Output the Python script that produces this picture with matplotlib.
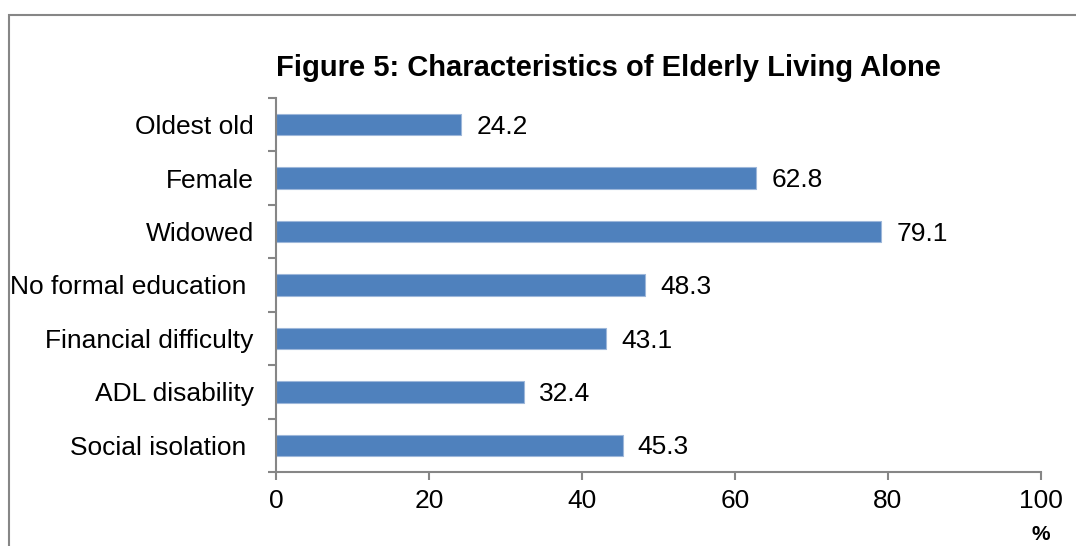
import matplotlib.pyplot as plt
from matplotlib.patches import Rectangle

plt.rcParams['font.family'] = ['Liberation Sans', 'DejaVu Sans']

labels = ['Oldest old', 'Female', 'Widowed', 'No formal education ',
          'Financial difficulty', 'ADL disability', 'Social isolation ']
values = [24.2, 62.8, 79.1, 48.3, 43.1, 32.4, 45.3]
xticks = [0, 20, 40, 60, 80, 100]

W, H = 1076, 546
fig = plt.figure(figsize=(W / 100, H / 100), dpi=100)

# outer chart frame (runs off the right and bottom edges)
fig.patches.append(Rectangle((9 / W, -0.1), 1.2, 1 - 15 / H + 0.1,
                             transform=fig.transFigure, fill=False,
                             edgecolor='#868686', linewidth=1.5, zorder=0))

ax = fig.add_axes([276 / W, 1 - 472 / H, (1041 - 276) / W, (472 - 98) / H])

ypos = list(range(len(labels)))
ax.barh(ypos, values, height=0.4, color='#4F81BD', edgecolor='#9DB7DA',
        linewidth=0.8)
for y, v in zip(ypos, values):
    ax.text(v + 2.0, y + 0.04, f'{v:.1f}', va='center', ha='left', fontsize=19)

ax.set_ylim(len(labels) - 0.5, -0.5)
ax.set_xlim(0, 100)
ax.set_yticks(ypos)
ax.set_yticklabels(labels, fontsize=19)
ax.set_yticks([i - 0.5 for i in range(len(labels) + 1)], minor=True)
ax.tick_params(axis='y', which='major', length=0, pad=16)
ax.tick_params(axis='y', which='minor', length=6, width=1.5, color='#868686')
ax.set_xticks(xticks)
ax.set_xticklabels([str(t) for t in xticks], fontsize=19)
ax.tick_params(axis='x', length=6, width=1.5, color='#868686', pad=6)

for s in ['top', 'right']:
    ax.spines[s].set_visible(False)
for s in ['left', 'bottom']:
    ax.spines[s].set_color('#868686')
    ax.spines[s].set_linewidth(1.5)

fig.text(608 / W, 1 - 68 / H, 'Figure 5: Characteristics of Elderly Living Alone',
         ha='center', va='center', fontsize=21, fontweight='bold')
fig.text(1041 / W, 1 - 534 / H, '%', ha='center', va='center',
         fontsize=15, fontweight='bold')

fig.savefig('out.png', dpi=100)
